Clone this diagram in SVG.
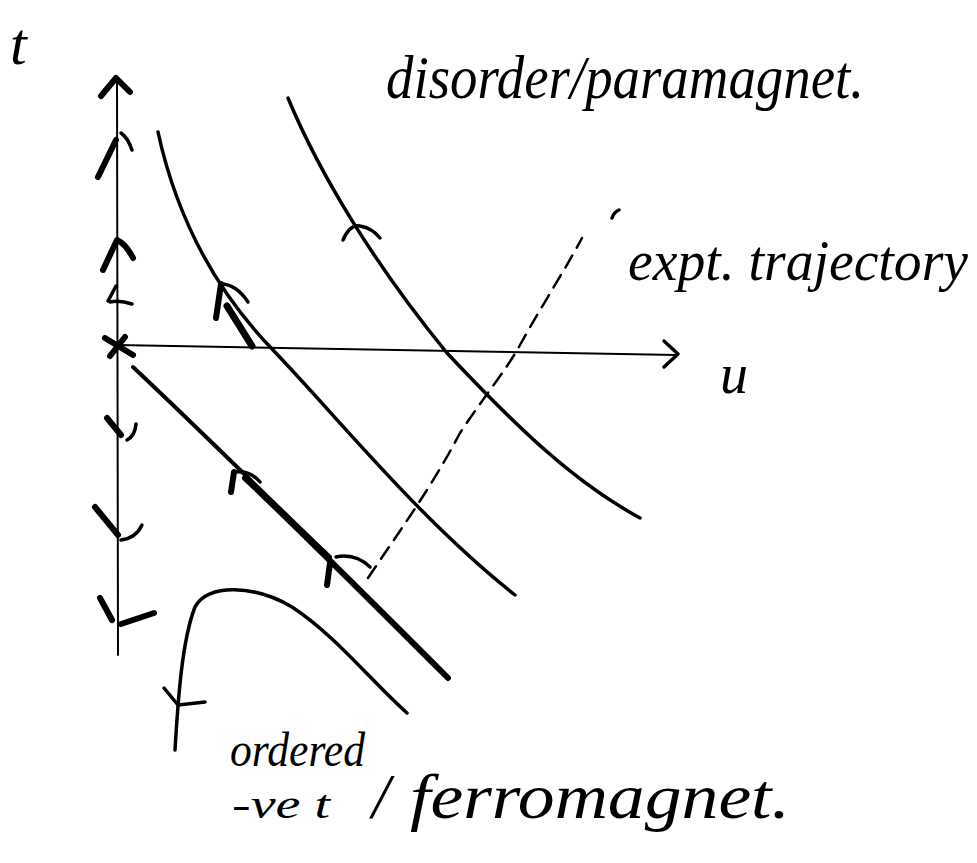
<svg xmlns="http://www.w3.org/2000/svg" width="977" height="863" viewBox="0 0 977 863">
<style>
.ink{fill:none;stroke:#000;stroke-linecap:round;stroke-linejoin:round}
.thin{stroke-width:2}
.mid{stroke-width:3.5}
.thick{stroke-width:6}
.lbl{font-family:"Liberation Serif","DejaVu Serif",serif;font-style:italic;fill:#000}
</style>
<rect width="977" height="863" fill="#fff"/>
<g id="axes">
  <path class="ink thin" d="M117,78 L118,655"/>
  <path class="ink thick" d="M101,96 L116,78 L130,92"/>
  <path class="ink thin" d="M117,345 L677,355"/>
  <path class="ink mid" d="M664,341 L678,354 L664,367"/>
  <path class="ink thick" d="M105,338 L133,355 M110,356 L125,337"/>
</g>
<g id="axis-flow">
  <path class="ink thick" d="M98,177 L116,140"/>
  <path class="ink mid" d="M121,133 Q128,138 132,150"/>
  <path class="ink thick" d="M103,270 L117,240 Q126,244 133,258"/>
  <path class="ink mid" d="M108,301 L116,286 M110,302 Q120,300 132,304"/>
  <path class="ink thick" d="M107,418 L121,435"/>
  <path class="ink mid" d="M127,440 Q135,436 136,424"/>
  <path class="ink thick" d="M95,507 L118,535"/>
  <path class="ink mid" d="M121,540 Q136,538 142,525"/>
  <path class="ink thick" d="M100,598 L112,620"/>
  <path class="ink thick" d="M121,624 L154,613"/>
</g>
<g id="curves">
  <path id="curve-a" class="ink mid" d="M158,132 C175,210 210,285 273,350 C340,420 420,520 515,595"/>
  <path id="curve-b" class="ink mid" d="M288,98 C320,175 375,265 447,353 C510,420 570,480 640,518"/>
  <path id="curve-c" class="ink" stroke-width="4" d="M133,367 C200,430 260,490 330,557"/>
  <path class="ink" stroke-width="6" d="M245,478 C300,530 360,590 448,678"/>
  <path id="dome" class="ink mid" d="M175,750 C178,700 182,640 195,607 C207,583 255,585 292,607 C335,635 372,682 407,713"/>
  <path class="ink mid" d="M164,688 L178,705 L205,702"/>
</g>
<g id="curve-flow">
  <path class="ink thick" d="M216,318 L221,284"/>
  <path class="ink mid" d="M221,284 Q236,284 248,302"/>
  <path class="ink" stroke-width="7" d="M227,306 L252,346"/>
  <path class="ink mid" d="M343,240 Q350,224 360,226 Q372,228 380,238"/>
  <path class="ink thick" d="M231,492 L234,472"/>
  <path class="ink mid" d="M235,472 Q250,470 260,482"/>
  <path class="ink thick" d="M327,585 L330,563"/>
  <path class="ink mid" d="M336,557 Q355,553 370,567"/>
</g>
<g id="trajectory">
  <path class="ink" stroke-width="2.5" stroke-dasharray="14 9" d="M368,578 C400,530 430,490 460,433 C485,395 505,372 520,345 C545,300 565,270 582,238"/>
  <path class="ink mid" d="M612,218 Q614,212 619,210"/>
</g>
<g id="labels">
  <text class="lbl" x="10" y="64" font-size="60">t</text>
  <text class="lbl" x="720" y="393" font-size="56">u</text>
  <text class="lbl" x="386" y="98" font-size="62" textLength="478" lengthAdjust="spacingAndGlyphs">disorder/paramagnet.</text>
  <text class="lbl" x="628" y="280" font-size="56" textLength="340" lengthAdjust="spacingAndGlyphs">expt. trajectory</text>
  <text class="lbl" x="230" y="766" font-size="48" textLength="135" lengthAdjust="spacingAndGlyphs">ordered</text>
  <text class="lbl" x="232" y="818" font-size="40" textLength="98" lengthAdjust="spacingAndGlyphs">-ve t</text>
  <text class="lbl" x="372" y="818" font-size="64">/</text>
  <text class="lbl" x="410" y="818" font-size="64" textLength="380" lengthAdjust="spacingAndGlyphs">ferromagnet.</text>
</g>
</svg>
